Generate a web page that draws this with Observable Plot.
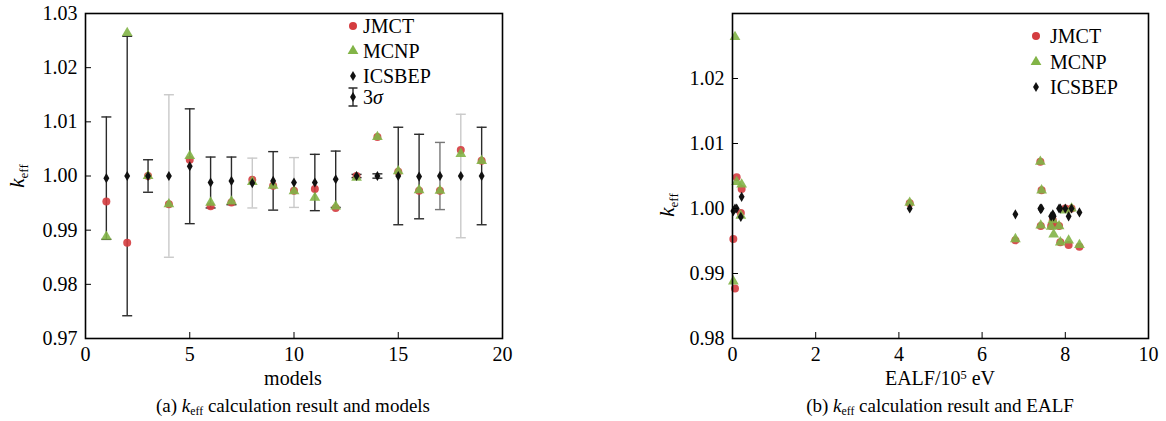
<!DOCTYPE html>
<html>
<head>
<meta charset="utf-8">
<script src="https://cdn.jsdelivr.net/npm/d3@7"></script>
<script src="https://cdn.jsdelivr.net/npm/@observablehq/plot@0.6"></script>
<style>
  body { margin: 0; background: #fff; color: #000; font-family: "Liberation Serif", Tinos, "Times New Roman", Times, "DejaVu Serif", serif; }
  #root { position: relative; width: 1166px; height: 421px; overflow: hidden; background: #fff; }
  .panel { position: absolute; top: 0; }
  .lab { position: absolute; font-size: 20px; line-height: 20px; white-space: nowrap; transform: translateX(-50%); }
  .cap { position: absolute; font-size: 19px; line-height: 19px; white-space: nowrap; transform: translateX(-50%); }
  .ylab { position: absolute; font-size: 21px; line-height: 21px; white-space: nowrap; transform: translate(-50%, -50%) rotate(-90deg); }
  .sub { font-size: 0.62em; position: relative; top: 0.28em; }
  .sup { font-size: 0.62em; position: relative; top: -0.45em; }
  .leg { position: absolute; font-size: 20px; line-height: 20px; white-space: nowrap; }
  .legicon { position: absolute; }
  svg text { font-family: "Liberation Serif", Tinos, "Times New Roman", Times, "DejaVu Serif", serif; }
</style>
</head>
<body>
<div id="root">
  <div class="panel" id="left" style="left:0px"></div>
  <div class="panel" id="right" style="left:600px"></div>

  <div class="ylab" style="left:18px; top:176px"><i>k</i><span class="sub">eff</span></div>
  <div class="ylab" style="left:668px; top:205px"><i>k</i><span class="sub">eff</span></div>

  <div class="lab" style="left:293px; top:368px">models</div>
  <div class="lab" style="left:940px; top:368px">EALF/10<span class="sup">5</span> eV</div>

  <div class="cap" style="left:293px; top:396px">(a) <i>k</i><span class="sub">eff</span> calculation result and models</div>
  <div class="cap" style="left:940px; top:396px">(b) <i>k</i><span class="sub">eff</span> calculation result and EALF</div>

  <div id="legendA"></div>
  <div id="legendB"></div>
</div>
<script>
// ---------------- data ----------------
const models = [1, 2, 3, 4, 5, 6, 7, 8, 9, 10, 11, 12, 13, 14, 15, 16, 17, 18, 19];
// EALF in units of 1e5 eV
const ealf   = [0.02, 0.06, 8.15, 7.88, 0.22, 8.08, 6.80, 0.20, 7.70, 7.66, 7.72, 8.34, 8.00, 7.40, 4.26, 7.41, 7.85, 0.10, 7.43];
const jmct   = [0.9953, 0.9877, 1.0000, 0.9948, 1.0030, 0.9944, 0.9951, 0.9993, 0.9982, 0.9973, 0.9976, 0.9941, 1.0000, 1.0072, 1.0008, 0.9973, 0.9973, 1.0048, 1.0028];
const mcnp   = [0.9888, 1.0264, 1.0000, 0.9948, 1.0037, 0.9951, 0.9953, 0.9989, 0.9982, 0.9972, 0.9960, 0.9944, 0.9997, 1.0072, 1.0009, 0.9974, 0.9973, 1.0041, 1.0028];
const icsbep = [0.9996, 1.0000, 1.0000, 1.0000, 1.0018, 0.9988, 0.9991, 0.9987, 0.9991, 0.9988, 0.9988, 0.9994, 1.0000, 1.0000, 1.0000, 0.9999, 1.0000, 1.0000, 1.0000];
const sigma3 = [0.0113, 0.0258, 0.0030, 0.0150, 0.0106, 0.0047, 0.0044, 0.0046, 0.0054, 0.0046, 0.0052, 0.0052, 0.0003, 0.0004, 0.0090, 0.0078, 0.0062, 0.0114, 0.0090];

const xTicksA = [0, 5, 10, 15, 20];
const yTicksA = [0.97, 0.98, 0.99, 1.00, 1.01, 1.02, 1.03];
const xTicksB = [0, 2, 4, 6, 8, 10];
const yTicksB = [0.98, 0.99, 1.00, 1.01, 1.02];

// ---------------- style ----------------
const SERIF = "'Liberation Serif', Tinos, 'Times New Roman', Times, 'DejaVu Serif', serif";
const RED = "#d43c3f", GREEN = "#82b447", BLACK = "#111";
const lightBars = [4, 8, 10, 18];
const midBars = [17];
const barColor = m => lightBars.includes(m) ? "#c9c9c9" : midBars.includes(m) ? "#777" : "#2b2b2b";
const capSymbol = { draw(ctx, size) { const w = Math.sqrt(size / Math.PI); ctx.moveTo(-w, 0); ctx.lineTo(w, 0); } };
const fontStyle = { fontFamily: SERIF, fontSize: "20px", background: "white", color: "black", overflow: "visible" };

const rows = models.map((m, i) => ({ model: m, ealf: ealf[i], jmct: jmct[i], mcnp: mcnp[i], icsbep: icsbep[i], s: sigma3[i] }));

function axes(xt, yt, yfmt) {
  return [
    Plot.axisX({ ticks: xt, tickSize: -6, tickPadding: 14, label: null, tickFormat: d3.format("d"), stroke: "#000", fontFamily: SERIF, fontSize: 20 }),
    Plot.axisY({ ticks: yt, tickSize: -6, tickPadding: 14, label: null, tickFormat: yfmt, stroke: "#000", fontFamily: SERIF, fontSize: 20 }),
    Plot.frame({ stroke: "#000", strokeWidth: 1.6 })
  ];
}

// ---------------- panel (a) ----------------
const plotA = Plot.plot({
  width: 540, height: 364,
  marginLeft: 85, marginRight: 38, marginTop: 13, marginBottom: 26,
  x: { type: "linear", domain: [0, 20] },
  y: { type: "linear", domain: [0.97, 1.03] },
  style: fontStyle,
  marks: [
    Plot.ruleX(rows, { x: "model", y1: d => d.icsbep - d.s, y2: d => d.icsbep + d.s, stroke: d => barColor(d.model), strokeWidth: 1.4 }),
    Plot.dot(rows, { x: "model", y: d => d.icsbep + d.s, symbol: capSymbol, r: 5, stroke: d => barColor(d.model), strokeWidth: 1.4 }),
    Plot.dot(rows, { x: "model", y: d => d.icsbep - d.s, symbol: capSymbol, r: 5, stroke: d => barColor(d.model), strokeWidth: 1.4 }),
    Plot.dot(rows, { x: "model", y: "jmct", symbol: "circle", r: 4, fill: RED, fillOpacity: 0.9, stroke: "none" }),
    Plot.dot(rows, { x: "model", y: "mcnp", symbol: "triangle", r: 4, fill: GREEN, fillOpacity: 0.9, stroke: "none" }),
    Plot.dot(rows, { x: "model", y: "icsbep", symbol: "diamond", r: 3.1, fill: BLACK, stroke: "none" }),
    ...axes(xTicksA, yTicksA, d3.format(".2f"))
  ]
});
document.getElementById("left").appendChild(plotA);

// ---------------- panel (b) ----------------
const plotB = Plot.plot({
  width: 566, height: 364,
  marginLeft: 132, marginRight: 18, marginTop: 13, marginBottom: 26,
  x: { type: "linear", domain: [0, 10] },
  y: { type: "linear", domain: [0.98, 1.03] },
  style: fontStyle,
  marks: [
    Plot.dot(rows, { x: "ealf", y: "jmct", symbol: "circle", r: 4, fill: RED, fillOpacity: 0.9, stroke: "none" }),
    Plot.dot(rows, { x: "ealf", y: "mcnp", symbol: "triangle", r: 4, fill: GREEN, fillOpacity: 0.9, stroke: "none" }),
    Plot.dot(rows, { x: "ealf", y: "icsbep", symbol: "diamond", r: 3.1, fill: BLACK, stroke: "none" }),
    ...axes(xTicksB, yTicksB, d3.format(".2f"))
  ]
});
document.getElementById("right").appendChild(plotB);

// ---------------- legends (HTML) ----------------
function icon(kind) {
  const ns = "http://www.w3.org/2000/svg";
  const svg = document.createElementNS(ns, "svg");
  svg.setAttribute("width", 16); svg.setAttribute("height", 26);
  svg.setAttribute("viewBox", "-8 -13 16 26");
  const g = document.createElementNS(ns, "path");
  if (kind === "circle") { g.setAttribute("d", d3.symbol(d3.symbolCircle, Math.PI * 16)()); g.setAttribute("fill", RED); }
  if (kind === "triangle") { g.setAttribute("d", d3.symbol(d3.symbolTriangle, Math.PI * 16)()); g.setAttribute("fill", GREEN); }
  if (kind === "diamond") { g.setAttribute("d", d3.symbol(d3.symbolDiamond, Math.PI * 3.1 * 3.1)()); g.setAttribute("fill", BLACK); }
  if (kind === "bar") {
    const p = document.createElementNS(ns, "path");
    p.setAttribute("d", "M0,-9V9M-4.5,-9H4.5M-4.5,9H4.5");
    p.setAttribute("stroke", "#2b2b2b"); p.setAttribute("stroke-width", 1.4); p.setAttribute("fill", "none");
    svg.appendChild(p);
    g.setAttribute("d", d3.symbol(d3.symbolDiamond, Math.PI * 3.1 * 3.1)()); g.setAttribute("fill", BLACK);
  }
  svg.appendChild(g);
  return svg;
}
function legend(container, items, mx, tx) {
  const el = document.getElementById(container);
  items.forEach(([kind, html, y]) => {
    const ic = icon(kind);
    ic.setAttribute("class", "legicon");
    ic.style.left = (mx - 8) + "px"; ic.style.top = (y - 13) + "px";
    el.appendChild(ic);
    const t = document.createElement("div");
    t.className = "leg"; t.style.left = tx + "px"; t.style.top = (y - 10) + "px";
    t.innerHTML = html;
    el.appendChild(t);
  });
}
legend("legendA", [["circle", "JMCT", 26], ["triangle", "MCNP", 51], ["diamond", "ICSBEP", 76], ["bar", "3<i>σ</i>", 97]], 352.5, 363);
legend("legendB", [["circle", "JMCT", 36], ["triangle", "MCNP", 61.5], ["diamond", "ICSBEP", 87]], 1036, 1050);
</script>
</body>
</html>
